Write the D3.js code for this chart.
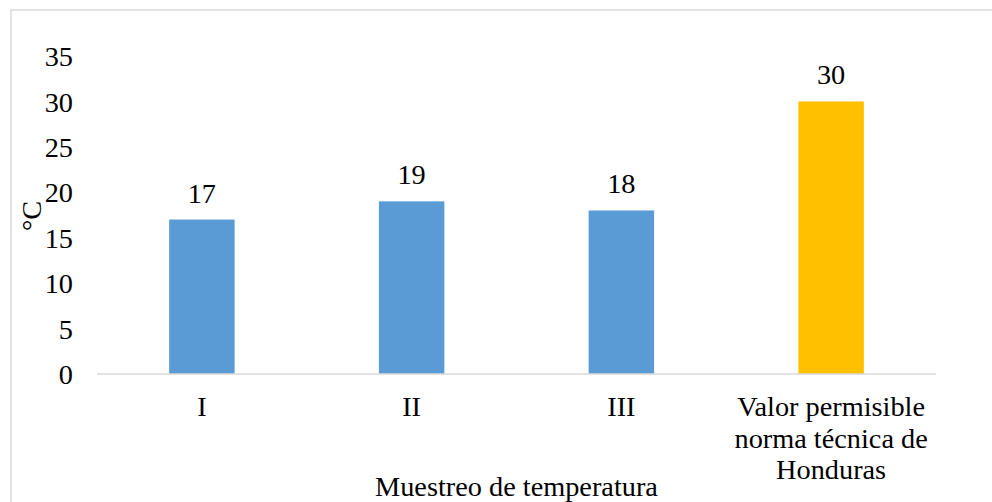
<!DOCTYPE html>
<html><head><meta charset="utf-8">
<script src="https://cdn.jsdelivr.net/npm/d3@7"></script>
<style>html,body{margin:0;padding:0;background:#fff;}svg{display:block;}
svg text{font-family:"Liberation Serif","Times New Roman",Times,"DejaVu Serif",serif;}</style>
</head><body>
<script>
const categories = ["I", "II", "III", "Valor permisible norma técnica de Honduras"];
const categoryLines = [["I"], ["II"], ["III"], ["Valor permisible", "norma técnica de", "Honduras"]];
const values = [17, 19, 18, 30];
const colors = ["#5B9BD5", "#5B9BD5", "#5B9BD5", "#FFC000"];
const yTicks = [0, 5, 10, 15, 20, 25, 30, 35];
const yTitle = "°C";
const xTitle = "Muestreo de temperatura";

const W = 992, H = 502;
const fs = 28.3;
const svg = d3.select("body").append("svg").attr("width", W).attr("height", H);
svg.append("rect").attr("width", W).attr("height", H).attr("fill", "#fff");
svg.append("rect").attr("x", 11).attr("y", 10).attr("width", W + 10).attr("height", H + 10)
  .attr("fill", "none").attr("stroke", "#d9d9d9").attr("stroke-width", 1.5);

const plot = {left: 97, right: 936, top: 56, bottom: 374};
const x = d3.scaleBand().domain(categories).range([plot.left, plot.right]).paddingInner(0.688).paddingOuter(0.344);
const y = d3.scaleLinear().domain([0, 35]).range([plot.bottom, plot.top]);

const yAxis = d3.axisLeft(y).tickValues(yTicks).tickSize(0).tickPadding(0);
const yg = svg.append("g").attr("transform", `translate(73,0)`).call(yAxis);
yg.attr("font-family", null);
yg.select(".domain").remove();
yg.selectAll("text").attr("font-size", fs).attr("fill", "#000").attr("dy", "0.34em");

svg.selectAll("rect.bar").data(values).enter().append("rect").attr("class", "bar")
  .attr("x", (d, i) => x(categories[i])).attr("width", x.bandwidth())
  .attr("y", d => y(d)).attr("height", d => y(0) - y(d))
  .attr("fill", (d, i) => colors[i]);

svg.append("line").attr("x1", plot.left).attr("x2", plot.right).attr("y1", y(0)).attr("y2", y(0))
  .attr("stroke", "#d9d9d9").attr("stroke-width", 1.5);

svg.selectAll("text.lab").data(values).enter().append("text").attr("class", "lab")
  .attr("x", (d, i) => x(categories[i]) + x.bandwidth() / 2).attr("y", d => y(d) - 17)
  .attr("text-anchor", "middle").attr("font-size", fs).attr("fill", "#000")
  .text(d => d);

categories.forEach((c, i) => {
  const t = svg.append("text").attr("text-anchor", "middle").attr("font-size", fs).attr("fill", "#000");
  categoryLines[i].forEach((ln, j) => {
    t.append("tspan").attr("x", x(c) + x.bandwidth() / 2).attr("y", 416 + j * 31.5).text(ln);
  });
});

svg.append("text").attr("x", (plot.left + plot.right) / 2).attr("y", 496).attr("text-anchor", "middle")
  .attr("font-size", fs).attr("fill", "#000").text(xTitle);
svg.append("text").attr("transform", `translate(41,216) rotate(-90)`).attr("text-anchor", "middle")
  .attr("font-size", fs).attr("fill", "#000").text(yTitle);
</script>
</body></html>
